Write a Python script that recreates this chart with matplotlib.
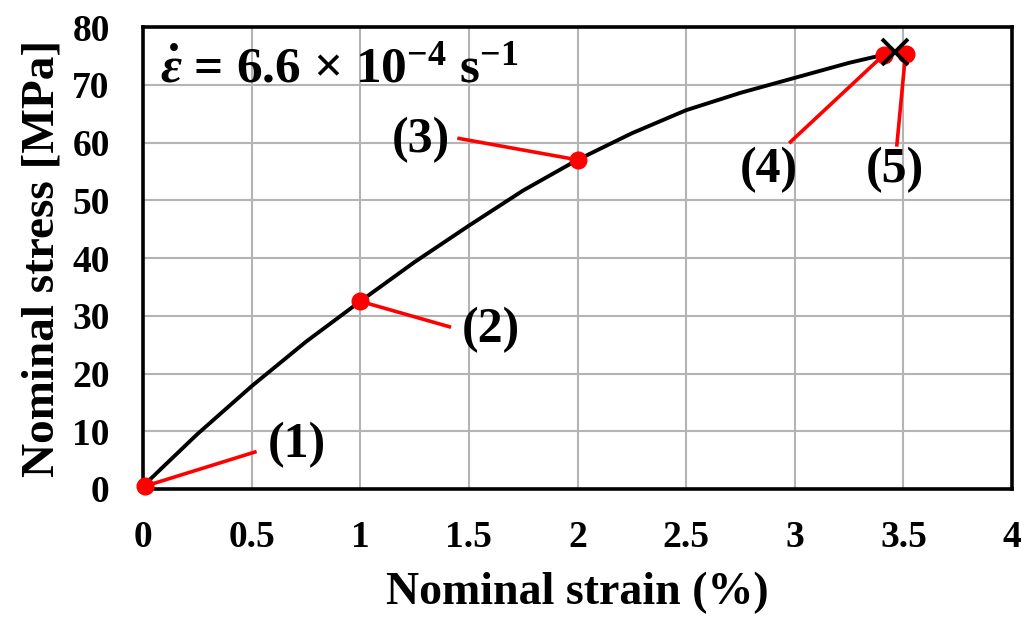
import matplotlib
matplotlib.use("Agg")
import matplotlib.pyplot as plt

# Tensile test curve (nominal strain in %, nominal stress in MPa)
strain = [0.0, 0.25, 0.50, 0.75, 1.00, 1.25, 1.50, 1.75, 2.00, 2.25,
          2.50, 2.75, 3.00, 3.25, 3.41, 3.46]
stress = [0.5, 9.5, 17.8, 25.5, 32.5, 39.3, 45.6, 51.7, 57.0, 61.6,
          65.6, 68.6, 71.2, 73.8, 75.2, 75.6]

# Marked states (1)-(5)
mark_labels = ["(1)", "(2)", "(3)", "(4)", "(5)"]
mark_strain = [0.01, 1.00, 2.00, 3.41, 3.51]
mark_stress = [0.5, 32.5, 57.0, 75.2, 75.4]
# Leader-line ends and label anchors
leader_x = [0.515, 1.41, 1.455, 2.98, 3.47]
leader_y = [6.4, 28.1, 60.7, 60.1, 59.6]
label_x = [0.71, 1.60, 1.28, 2.88, 3.46]
label_y = [7.6, 27.6, 60.5, 55.3, 55.3]

# Fracture point
fracture_strain = [3.46]
fracture_stress = [75.6]

x_ticks = [0, 0.5, 1, 1.5, 2, 2.5, 3, 3.5, 4]
x_tick_labels = ["0", "0.5", "1", "1.5", "2", "2.5", "3", "3.5", "4"]
y_ticks = [0, 10, 20, 30, 40, 50, 60, 70, 80]

plt.rcParams["font.family"] = ["Liberation Serif", "DejaVu Serif"]
plt.rcParams["font.weight"] = "bold"
plt.rcParams["mathtext.fontset"] = "custom"
plt.rcParams["mathtext.rm"] = "Liberation Serif:bold"
plt.rcParams["mathtext.bf"] = "Liberation Serif:bold"
plt.rcParams["mathtext.it"] = "Liberation Serif:italic:bold"

fig = plt.figure(figsize=(10.31, 6.27), dpi=100)
ax = fig.add_axes([0.1387, 0.2201, 0.8429, 0.7368])

ax.set_xlim(0, 4)
ax.set_ylim(0, 80)
ax.set_xticks(x_ticks)
ax.set_xticklabels(x_tick_labels)
ax.set_yticks(y_ticks)
ax.grid(True, color="#b4b4b4", linewidth=1.5, zorder=0)
ax.set_axisbelow(True)

for s in ax.spines.values():
    s.set_linewidth(2.6)
    s.set_color("black")

ax.tick_params(axis="both", length=0, labelsize=27)
ax.tick_params(axis="y", pad=24)
ax.tick_params(axis="x", pad=22)
for lab in ax.get_xticklabels() + ax.get_yticklabels():
    lab.set_fontweight("bold")

ax.set_xlabel("Nominal strain (%)", fontsize=33, fontweight="bold", labelpad=12)
ax.set_ylabel("Nominal stress [MPa]", fontsize=34, fontweight="bold", labelpad=6)

# Stress-strain curve
ax.plot(strain, stress, color="black", linewidth=2.8, zorder=3, clip_on=False,
        solid_joinstyle="round", solid_capstyle="round")

# Leader lines and labels
for lx0, ly0, lx1, ly1, tx, ty, t in zip(mark_strain, mark_stress, leader_x, leader_y,
                                          label_x, label_y, mark_labels):
    ax.plot([lx0, lx1], [ly0, ly1], color="#ff0000", linewidth=2.6, zorder=4,
            clip_on=False)
    ax.text(tx, ty, t, fontsize=36, fontweight="bold", ha="center", va="center",
            zorder=6)

ax.plot(mark_strain, mark_stress, "o", color="#ff0000", markersize=12,
        zorder=5, clip_on=False)
ax.plot(fracture_strain, fracture_stress, "x", color="black", markersize=19,
        markeredgewidth=2.8, zorder=7, clip_on=False)

# Strain-rate annotation
ax.text(0.02, 0.881,
        r"$\dot{\varepsilon}$ = 6.6 × 10$^{\mathbf{-4}}$ s$^{\mathbf{-1}}$",
        transform=ax.transAxes, fontsize=37, fontweight="bold",
        ha="left", va="baseline", zorder=6)

fig.savefig("out.png", dpi=100)
